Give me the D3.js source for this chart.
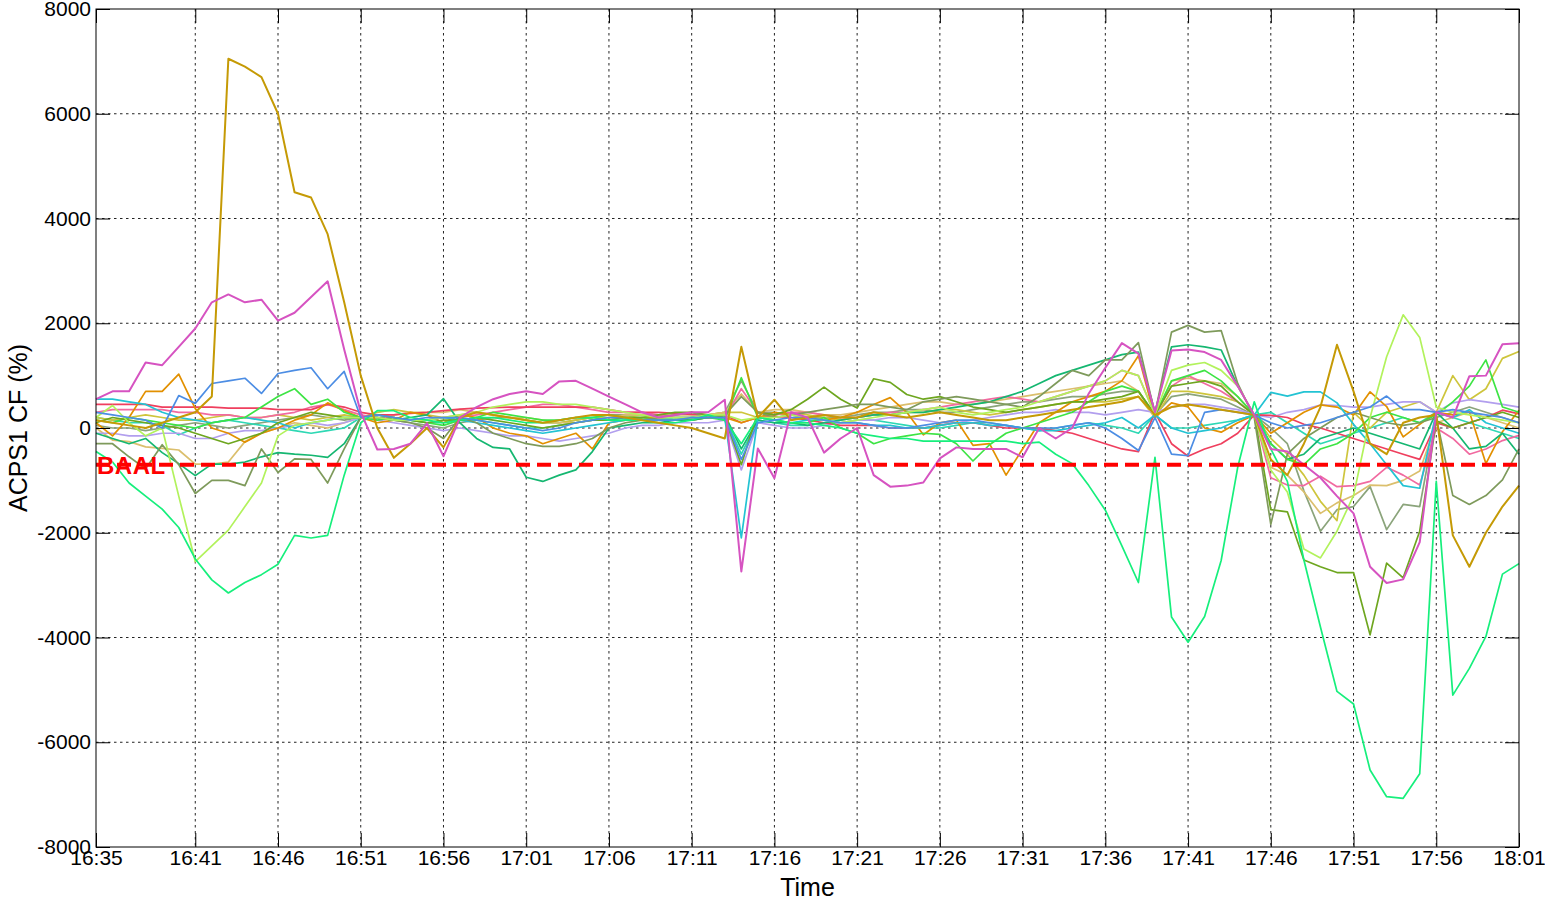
<!DOCTYPE html>
<html>
<head>
<meta charset="utf-8">
<script src="https://cdn.jsdelivr.net/npm/d3@7"></script>
<style>
  body { margin: 0; background: #fff; }
  svg { display: block; }
  text { font-family: "Liberation Sans", Arial, sans-serif; }
</style>
</head>
<body>
<svg id="chart" width="1545" height="902"></svg>
<script>
// sampling: one value per minute from 16:35
var startTime = "16:35";
var timeTicks = ["16:35", "16:41", "16:46", "16:51", "16:56", "17:01", "17:06", "17:11", "17:16",
                 "17:21", "17:26", "17:31", "17:36", "17:41", "17:46", "17:51", "17:56", "18:01"];
var yTicks = [8000, 6000, 4000, 2000, 0, -2000, -4000, -6000, -8000];
var baalValue = -700;

var s01 = [150,100,50,0,100,200,300,600,7050,6900,
  6700,6000,4500,4400,3700,2400,1000,0,-570,-300,
  0,-370,200,300,250,200,150,100,150,200,
  250,250,200,150,100,50,0,-100,-200,1550,
  200,540,150,200,250,200,200,300,250,200,
  250,300,250,200,150,150,200,250,300,350,
  400,450,500,600,250,400,450,400,350,300,
  250,-600,-900,-300,400,1590,700,-300,-500,100,
  200,250,-2050,-2650,-2000,-1500,-1100];
var s02 = [550,700,700,1250,1200,1550,1900,2400,2550,2400,
  2450,2050,2200,2500,2800,1500,300,-410,-400,-300,
  90,-540,200,400,550,650,700,650,890,900,
  750,600,450,300,200,250,300,300,540,-2740,
  -390,-960,300,200,-470,-200,0,-900,-1120,-1100,
  -1040,-580,-370,-400,-400,-400,-560,0,-200,0,
  660,1150,1620,1420,300,1480,1500,1450,1300,800,
  250,-400,-450,-700,-950,-1300,-1630,-2650,-2960,-2890,
  -2180,300,200,990,1000,1600,1620];
var s03 = [300,250,200,150,0,620,470,850,900,950,
  660,1040,1100,1150,750,1080,200,250,200,150,
  200,200,200,150,100,50,0,-50,0,100,
  150,200,200,150,150,150,200,200,200,-600,
  100,150,200,200,150,100,100,50,0,0,
  50,100,150,150,100,50,0,0,0,50,
  100,0,-200,-430,200,-500,-530,300,350,300,
  250,100,0,50,100,200,300,400,610,350,
  350,300,350,300,250,200,100];
var s04 = [-450,-650,-1050,-1300,-1550,-1900,-2500,-2900,-3150,-2950,
  -2800,-2600,-2050,-2100,-2050,-900,100,330,330,200,
  150,100,150,200,200,150,100,100,150,200,
  200,150,150,150,100,100,150,250,150,-300,
  200,150,100,100,50,0,-100,-150,-200,-200,
  -250,-250,-250,-250,-250,-250,-300,-270,-500,-680,
  -1100,-1570,-2250,-2950,-560,-3610,-4090,-3600,-2530,-750,
  500,-400,-1020,-2520,-3800,-5030,-5270,-6530,-7040,-7070,
  -6600,-1020,-5100,-4590,-3980,-2790,-2590];
var s05 = [200,430,100,-150,0,-1300,-2550,-2250,-1950,-1500,
  -1050,-150,50,100,150,200,200,200,150,150,
  150,200,250,300,400,450,500,500,450,450,
  400,350,300,250,200,200,200,250,250,150,
  200,200,250,200,150,100,150,200,250,300,
  350,400,300,250,300,350,400,500,600,700,
  800,900,1100,1000,250,1100,1200,1250,1100,800,
  250,-800,-1220,-2310,-2480,-1970,-1290,200,1360,2160,
  1730,400,300,250,200,150,100];
var s06 = [-300,-300,-550,-780,-320,-700,-1250,-1000,-1000,-1100,
  -400,-850,-590,-600,-1050,-400,200,200,150,100,
  0,-200,200,100,-100,-200,-300,-350,-350,-300,
  -200,0,100,150,200,250,300,200,250,600,
  300,200,250,300,350,400,450,450,400,350,
  500,550,600,550,500,450,400,600,850,1100,
  1000,1300,1300,1630,270,1830,1960,1830,1860,850,
  200,-1840,-500,-200,0,200,300,200,100,50,
  100,200,-1290,-1460,-1290,-990,-400];
var s07 = [100,200,150,100,50,0,-100,-200,-300,-200,
  -100,100,200,300,250,200,200,250,200,150,
  100,150,150,200,150,100,50,0,50,100,
  150,150,200,200,250,300,300,250,200,-700,
  300,250,350,550,780,550,380,940,870,640,
  550,600,500,400,350,300,350,400,450,500,
  500,550,600,700,250,800,850,900,800,500,
  250,-1560,-1600,-2520,-2650,-2760,-2760,-3950,-2580,-2860,
  -1970,140,0,100,200,300,200];
var s08 = [150,100,200,150,100,50,0,100,150,200,
  400,600,750,450,550,300,200,150,200,150,
  100,50,150,200,300,250,200,150,150,200,
  200,250,200,200,150,150,200,200,150,960,
  200,150,100,100,200,0,-100,-300,-200,-150,
  -100,-120,-300,-630,-320,-100,0,100,200,300,
  500,700,800,700,250,900,1000,1100,900,600,
  250,-300,-600,-700,-400,-300,-100,200,300,200,
  100,250,500,800,1300,400,300];
var s09 = [550,550,500,450,300,200,150,100,150,200,
  150,100,0,100,150,200,200,200,150,150,
  150,200,150,100,50,0,-50,-100,-50,0,
  50,100,150,150,150,200,200,250,200,-2100,
  200,150,100,150,150,100,100,50,50,0,
  0,50,100,100,50,50,0,-50,-50,0,
  50,100,200,0,250,0,-100,-50,0,150,
  250,680,610,690,690,480,70,-300,-700,-1100,
  -1150,300,200,350,100,0,-100];
var s10 = [-100,-200,-300,-200,-470,-680,-910,-690,-690,-650,
  -550,-470,-500,-520,-560,-300,200,200,150,200,
  250,560,100,-200,-370,-400,-940,-1020,-900,-800,
  -450,0,50,100,100,150,150,200,250,-400,
  150,100,100,50,100,150,200,250,250,300,
  300,350,400,450,500,600,700,850,1000,1100,
  1200,1300,1400,1450,300,1550,1590,1550,1490,800,
  250,-300,-600,-500,-200,-100,0,-100,-200,-300,
  -400,300,0,-400,-350,-100,-500];
var s11 = [100,-150,200,700,700,1030,370,0,-100,-270,
  -100,0,150,250,480,330,200,100,150,300,
  250,100,250,200,0,-100,-150,-300,-200,-100,
  -400,100,150,200,200,150,150,200,200,100,
  200,300,250,200,150,200,300,450,580,300,
  -130,100,150,-330,-300,-900,-400,100,300,500,
  600,700,900,1380,200,480,400,0,-80,100,
  250,-100,100,300,440,400,250,690,410,-170,
  70,300,250,310,-680,-70,340];
var s12 = [450,450,450,450,400,400,400,400,380,380,
  380,350,350,350,450,400,300,250,250,280,
  300,330,360,380,390,400,400,400,400,400,
  400,350,300,300,300,280,260,250,250,100,
  200,220,200,150,100,50,50,50,0,0,
  0,50,100,100,50,0,0,0,-50,-100,
  -200,-300,-400,-450,300,-300,-540,-400,-300,-100,
  250,240,200,70,0,-100,-200,-300,-400,-500,
  -600,100,0,100,200,340,270];
var s13 = [300,350,350,350,350,300,300,250,250,200,
  200,250,300,400,450,350,250,200,200,150,
  150,200,200,250,300,350,400,450,450,400,
  350,300,300,300,250,200,200,200,200,750,
  300,250,300,300,250,200,200,250,300,300,
  350,400,450,500,550,600,550,500,600,700,
  800,900,1100,1000,250,800,1000,850,700,500,
  250,-950,-1090,-1100,-920,-1120,-1100,-1020,-750,-900,
  -1090,0,-200,-500,-400,-240,-140];
var s14 = [-100,-100,-150,-150,-100,-100,-200,-200,-100,-50,
  -50,0,50,100,50,100,200,150,100,50,
  0,-50,0,-50,-100,-150,-150,-200,-250,-200,
  -150,-100,0,50,50,100,100,100,150,-800,
  100,50,0,0,50,100,150,150,200,200,
  150,100,100,150,200,250,300,300,350,300,
  300,250,300,350,300,400,450,450,400,350,
  250,200,300,350,440,430,400,400,450,500,
  500,300,480,540,500,450,400];
var s15 = [0,-230,-260,-360,-390,-420,-690,-690,-650,-260,
  -100,0,100,50,0,100,200,250,250,300,
  300,300,350,300,250,200,200,150,100,100,
  150,200,250,250,250,250,250,250,300,650,
  300,350,350,300,250,250,300,350,400,450,
  500,500,450,450,500,550,600,650,700,750,
  800,850,900,700,200,900,950,900,850,600,
  250,-750,-900,-1220,-1630,-1430,-1290,-1090,-1100,-1000,
  -820,100,200,300,200,100,0];
var s16 = [200,150,200,250,200,150,150,200,250,200,
  200,250,200,150,200,250,200,300,350,300,
  250,200,250,300,250,200,150,100,100,150,
  200,200,200,250,250,200,200,250,300,300,
  200,250,300,250,200,150,200,250,250,300,
  300,350,350,300,250,300,350,400,450,500,
  500,500,550,600,200,700,700,650,600,500,
  250,-200,-500,-900,-1400,-1770,300,0,300,400,
  500,300,1000,540,750,1330,1460];
var s17 = [200,150,100,100,50,-130,0,100,150,100,
  50,0,-50,-100,-50,0,200,250,200,150,
  100,100,150,150,100,50,0,0,50,100,
  150,150,200,200,200,150,150,200,200,-500,
  150,100,50,50,100,100,150,150,100,50,
  0,0,50,100,100,50,0,-50,0,50,
  100,50,0,-100,250,0,0,50,100,150,
  250,300,100,-100,-300,-200,-100,0,100,200,
  100,300,200,100,0,-100,-200];
var s18 = [50,0,0,-50,0,50,100,50,0,50,
  100,150,200,250,200,150,200,200,150,100,
  50,0,100,150,200,200,150,100,100,150,
  200,250,250,250,200,200,200,250,300,900,
  300,300,250,200,200,200,250,300,300,350,
  350,300,300,350,400,450,500,500,550,600,
  600,650,700,700,250,600,650,600,550,400,
  250,0,-300,-1200,-1970,-1560,-1500,-1120,-1940,-1460,
  -1500,200,300,400,300,200,100];

var seriesList = [s18, s17, s16, s15, s14, s13, s12, s11, s10, s09, s08, s07, s06, s05, s04, s03, s01, s02];
var seriesColors = ["#8ba47b", "#2ed8b4", "#cec53c", "#dbbf6d", "#b29fee", "#f16aa0", "#ef3f5e", "#e29000",
                    "#15b771", "#23c3d3", "#3de444", "#6ea61f", "#7e9a5b", "#b2f25c", "#16ef7c", "#4c8de4",
                    "#c59a05", "#d653c1"];

var plotLeft = 96, plotRight = 1519, plotTop = 9, plotBottom = 847;

function toMin(s) { var p = s.split(':'); return (+p[0]) * 60 + (+p[1]); }
var t0 = toMin(startTime);

var svg = d3.select('#chart');

var x = d3.scaleLinear()
  .domain([0, toMin(timeTicks[timeTicks.length - 1]) - t0])
  .range([plotLeft, plotRight]);
var y = d3.scaleLinear()
  .domain([-8000, 8000])
  .range([plotBottom, plotTop]);

var tickMin = timeTicks.map(function(s) { return toMin(s) - t0; });

// grid
var grid = svg.append('g').attr('stroke', '#222').attr('stroke-width', 1).attr('stroke-dasharray', '2.5,3.5');
grid.selectAll('.gx').data(tickMin.slice(1, -1)).join('line')
  .attr('x1', function(d) { return x(d); }).attr('x2', function(d) { return x(d); })
  .attr('y1', plotTop).attr('y2', plotBottom);
grid.selectAll('.gy').data(yTicks.slice(1, -1)).join('line')
  .attr('y1', function(d) { return y(d); }).attr('y2', function(d) { return y(d); })
  .attr('x1', plotLeft).attr('x2', plotRight);

// series lines
var line = d3.line()
  .x(function(d, i) { return x(i); })
  .y(function(d) { return y(d); });

svg.append('g')
  .selectAll('path')
  .data(seriesList)
  .join('path')
  .attr('d', line)
  .attr('fill', 'none')
  .attr('stroke', function(d, i) { return seriesColors[i]; })
  .attr('stroke-width', function(d, i) { return i >= 16 ? 2 : 1.7; })
  .attr('stroke-linejoin', 'round');

// BAAL line + label
svg.append('text')
  .attr('x', 97).attr('y', y(baalValue) + 9)
  .attr('fill', '#ff0000')
  .attr('font-size', 24).attr('font-weight', 'bold')
  .attr('letter-spacing', 0.5)
  .text('BAAL');
svg.append('line')
  .attr('x1', plotLeft).attr('x2', plotRight)
  .attr('y1', y(baalValue)).attr('y2', y(baalValue))
  .attr('stroke', '#ff0000').attr('stroke-width', 4)
  .attr('stroke-dasharray', '14,7');

// axes
function styleAxis(g) {
  g.select('.domain').remove();
  g.selectAll('.tick line').attr('stroke', '#000');
  g.selectAll('text').attr('font-size', 21).attr('fill', '#000')
    .attr('font-family', '"Liberation Sans", Arial, sans-serif');
}

svg.append('g').attr('transform', 'translate(' + plotLeft + ',0)')
  .call(d3.axisLeft(y).tickValues(yTicks).tickSize(-14).tickPadding(5)
    .tickFormat(function(d) { return String(d); }))
  .call(styleAxis);
svg.append('g').attr('transform', 'translate(' + plotRight + ',0)')
  .call(d3.axisRight(y).tickValues(yTicks).tickSize(-14).tickFormat(''))
  .call(styleAxis);
svg.append('g').attr('transform', 'translate(0,' + plotBottom + ')')
  .call(d3.axisBottom(x).tickValues(tickMin).tickSize(-14).tickPadding(3)
    .tickFormat(function(d, i) { return timeTicks[i]; }))
  .call(styleAxis);
svg.append('g').attr('transform', 'translate(0,' + plotTop + ')')
  .call(d3.axisTop(x).tickValues(tickMin).tickSize(-14).tickFormat(''))
  .call(styleAxis);

svg.append('rect')
  .attr('x', plotLeft).attr('y', plotTop)
  .attr('width', plotRight - plotLeft).attr('height', plotBottom - plotTop)
  .attr('fill', 'none').attr('stroke', '#000').attr('stroke-width', 1);

// labels
svg.append('text')
  .attr('x', (plotLeft + plotRight) / 2).attr('y', 896)
  .attr('text-anchor', 'middle').attr('font-size', 25)
  .text('Time');
svg.append('text')
  .attr('transform', 'translate(27,' + ((plotTop + plotBottom) / 2) + ') rotate(-90)')
  .attr('text-anchor', 'middle').attr('font-size', 25)
  .text('ACPS1 CF (%)');
</script>
</body>
</html>
